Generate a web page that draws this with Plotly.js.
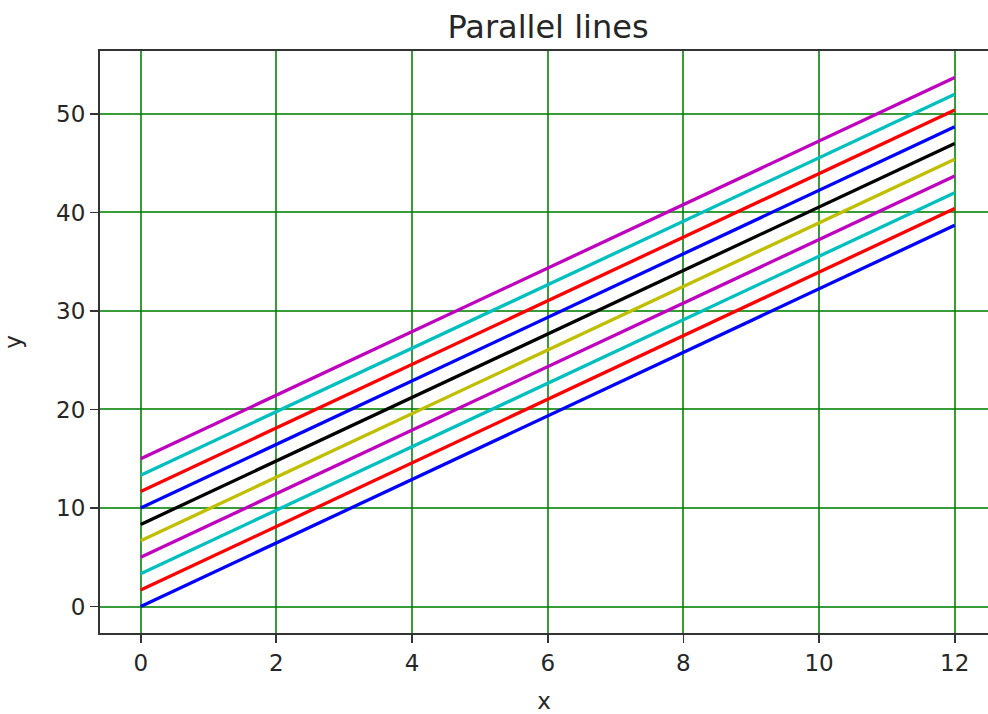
<!DOCTYPE html>
<html>
<head>
<meta charset="utf-8">
<script src="https://cdn.plot.ly/plotly-3.0.1.min.js"></script>
<style>html,body{margin:0;padding:0;background:#fff;}#chart{width:988px;height:714px;}</style>
</head>
<body>
<div id="chart"></div>
<script>
// x positions of each line's endpoints
const xValues = [0, 12];
// y value of each line at x = 0 (bottom to top)
const startValues = [0, 1.67, 3.33, 5, 6.67, 8.33, 10, 11.67, 13.33, 15];
// y value of each line at x = 12 (bottom to top)
const endValues = [38.7, 40.4, 42.0, 43.7, 45.4, 47.0, 48.7, 50.4, 52.0, 53.7];
// matplotlib single-letter colours, cycling b r c m y k
const lineColors = ['#0000ff', '#ff0000', '#00bfbf', '#bf00bf', '#bfbf00', '#000000',
                    '#0000ff', '#ff0000', '#00bfbf', '#bf00bf'];
const xTicks = [0, 2, 4, 6, 8, 10, 12];
const yTicks = [0, 10, 20, 30, 40, 50];

const FONT = 'DejaVu Sans, sans-serif';
const TXT = '#262626';
const traces = startValues.map((s, i) => ({
  type: 'scatter', mode: 'lines',
  x: xValues, y: [s, endValues[i]],
  line: {color: lineColors[i], width: 3.3},
  showlegend: false, hoverinfo: 'skip'
}));

const axisCommon = {
  showgrid: true, gridcolor: 'rgba(0,128,0,0.78)', gridwidth: 2,
  zeroline: false, showline: true, linecolor: '#333333', linewidth: 2,
  ticks: 'outside', ticklen: 8, tickwidth: 1.8, tickcolor: '#333333',
  tickfont: {family: FONT, size: 23, color: TXT}
};

const layout = {
  width: 988, height: 714,
  margin: {l: 100, r: 0, t: 51, b: 81},
  paper_bgcolor: '#ffffff', plot_bgcolor: '#ffffff',
  font: {family: FONT, color: TXT},
  title: {text: 'Parallel lines', font: {family: FONT, size: 32, color: TXT},
          xref: 'container', x: 548 / 988, xanchor: 'center', yref: 'container', y: 0.962, yanchor: 'middle'},
  xaxis: Object.assign({}, axisCommon, {
    range: [-0.6, 12.49], mirror: true, tickvals: xTicks, ticktext: xTicks.map(String),
    title: {text: 'x', font: {family: FONT, size: 23, color: TXT}, standoff: 20}
  }),
  yaxis: Object.assign({}, axisCommon, {
    range: [-2.69, 56.39], mirror: false, tickvals: yTicks, ticktext: yTicks.map(String),
    title: {text: 'y', font: {family: FONT, size: 23, color: TXT}, standoff: 28}
  })
};

Plotly.newPlot('chart', traces, layout, {staticPlot: true, displayModeBar: false});
</script>
</body>
</html>
